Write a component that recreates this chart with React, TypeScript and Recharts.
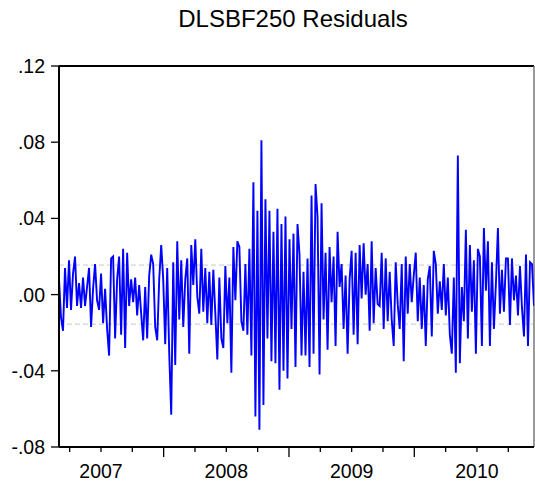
import React from 'react';
import { LineChart, Line, XAxis, YAxis, ReferenceLine } from 'recharts';

const TITLE = 'DLSBF250 Residuals';
const START_YEAR = 2007.165;
const END_YEAR = 2010.955;
const yTicks = [-0.08, -0.04, 0, 0.04, 0.08, 0.12];
const quarterTicks = [
  2007.25, 2007.5, 2007.75, 2008, 2008.25, 2008.5, 2008.75, 2009,
  2009.25, 2009.5, 2009.75, 2010, 2010.25, 2010.5, 2010.75,
];
const bandUpper = 0.0155;
const bandLower = -0.0155;

const residualsA = [
  0.008, -0.012, -0.019, 0.014, -0.007, 0.018, -0.008, 0.011, 0.020, -0.006,
  0.006, -0.007, 0.009, -0.006, 0.004, 0.014, -0.017, 0.003, 0.016, -0.003,
  -0.008, 0.011, -0.015, 0.003, -0.018, -0.032, 0.019, 0.020, -0.023, 0.008,
  0.020, -0.021, 0.024, -0.028, 0.022, -0.006, 0.008, -0.004, 0.009, -0.011,
];
const residualsB = [
  0.005, -0.010, -0.024, 0.004, -0.023, 0.010, 0.021, 0.016, -0.017, -0.024,
  0.008, 0.026, 0.008, -0.026, 0.014, -0.031, -0.063, 0.017, -0.037, 0.028,
  -0.013, 0.018, -0.017, 0.008, 0.019, -0.031, 0.026, 0.005, 0.029, -0.001,
  -0.010, 0.024, -0.009, 0.014, -0.015, 0.012, -0.016, 0.013, -0.010, -0.034,
];
const residualsC = [
  0.009, -0.023, -0.028, 0.015, -0.015, 0.009, -0.041, 0.025, -0.003, 0.028,
  0.025, -0.014, -0.019, 0.016, -0.021, 0.024, -0.032, 0.059, -0.064, 0.044,
  -0.071, 0.081, -0.058, 0.050, -0.023, 0.044, -0.035, 0.033, -0.036, 0.045,
  -0.050, 0.037, -0.040, 0.041, -0.044, 0.029, -0.018, 0.032, -0.038, 0.037,
];
const residualsD = [
  0.021, -0.032, 0.012, -0.032, 0.019, -0.038, 0.052, -0.031, 0.058, 0.041,
  -0.042, 0.048, -0.013, 0.022, -0.029, 0.025, -0.004, 0.020, -0.027, 0.033,
  0.004, 0.016, -0.018, 0.010, -0.031, 0.008, 0.023, -0.021, 0.022, -0.026,
  0.026, -0.002, 0.027, 0.000, 0.016, -0.019, 0.028, -0.015, 0.014, -0.005,
];
const residualsE = [
  -0.006, 0.022, -0.018, 0.019, -0.014, 0.012, -0.013, -0.027, 0.017, -0.005,
  -0.018, 0.016, -0.035, 0.020, -0.010, 0.016, -0.004, 0.010, 0.022, -0.014,
  0.009, -0.018, 0.005, -0.027, 0.008, 0.015, -0.022, 0.023, 0.016, -0.010,
  0.007, -0.008, 0.016, -0.011, 0.009, -0.021, -0.031, 0.009, -0.041, 0.073,
];
const residualsF = [
  -0.036, 0.004, -0.014, 0.034, -0.023, 0.026, -0.009, 0.018, -0.031, 0.024,
  0.020, -0.027, 0.035, 0.002, 0.028, -0.027, 0.017, -0.018, 0.006, 0.035,
  -0.010, 0.013, -0.009, 0.019, 0.019, -0.016, 0.019, -0.003, 0.010, -0.011,
  0.015, -0.007, -0.022, 0.021, -0.027, 0.017, 0.016, -0.006,
];

const residuals = [
  ...residualsA, ...residualsB, ...residualsC,
  ...residualsD, ...residualsE, ...residualsF,
];
const data = residuals.map((r, i) => ({
  t: START_YEAR + (i * (END_YEAR - START_YEAR)) / (residuals.length - 1),
  r,
}));

const FONT = '"Liberation Sans", Arial, sans-serif';

const fmtY = (v: number) => {
  const s = Math.abs(v).toFixed(2).replace(/^0/, '');
  return v < -1e-9 ? '-' + s : s;
};

const XTick = (props: any) => {
  const { x, y, payload } = props;
  const v = payload.value as number;
  const isYear = Math.abs(v - Math.round(v)) < 1e-6;
  const isMid = Math.abs(v - Math.floor(v) - 0.5) < 1e-6;
  return (
    <g>
      <line x1={x} x2={x} y1={y} y2={y + (isYear ? 10 : 5)} stroke="#000" strokeWidth={1.3} />
      {isMid && (
        <text x={x} y={y + 31} textAnchor="middle" fontSize={19.5} fontFamily={FONT} fill="#000">
          {String(Math.floor(v))}
        </text>
      )}
    </g>
  );
};

export default function App() {
  return (
    <div style={{ position: 'absolute', left: 0, top: 0, width: 535, height: 487, background: '#fff' }}>
      <div
        style={{
          position: 'absolute',
          left: 0,
          width: 586,
          top: 4,
          textAlign: 'center',
          fontFamily: FONT,
          fontSize: 24,
          lineHeight: '30px',
          color: '#000',
        }}
      >
        {TITLE}
      </div>
      <LineChart
        width={535}
        height={487}
        data={data}
        margin={{ top: 66, right: 1, left: 0, bottom: 0 }}
      >
        <XAxis
          dataKey="t"
          type="number"
          domain={[START_YEAR, END_YEAR]}
          ticks={quarterTicks}
          allowDataOverflow
          height={40}
          tickSize={0}
          tickMargin={0}
          tickLine={false}
          axisLine={{ stroke: '#000', strokeWidth: 2 }}
          tick={<XTick />}
          interval={0}
        />
        <YAxis
          type="number"
          domain={[-0.08, 0.12]}
          ticks={yTicks}
          width={59}
          tickSize={8}
          tickMargin={6}
          tickFormatter={fmtY}
          axisLine={{ stroke: '#000', strokeWidth: 2 }}
          tickLine={{ stroke: '#000', strokeWidth: 1.3 }}
          tick={{ fill: '#000', fontSize: 19.5, fontFamily: FONT }}
          interval={0}
        />
        <ReferenceLine y={bandUpper} stroke="#c8c8c8" strokeDasharray="5 3" strokeWidth={1} />
        <ReferenceLine y={bandLower} stroke="#c8c8c8" strokeDasharray="5 3" strokeWidth={1} />
        <ReferenceLine y={0.12} stroke="#000" strokeWidth={2} />
        <ReferenceLine x={END_YEAR} stroke="#777" strokeWidth={1.5} />
        <Line
          type="linear"
          dataKey="r"
          stroke="#0000ff"
          strokeWidth={1.9}
          dot={false}
          isAnimationActive={false}
        />
      </LineChart>
    </div>
  );
}
